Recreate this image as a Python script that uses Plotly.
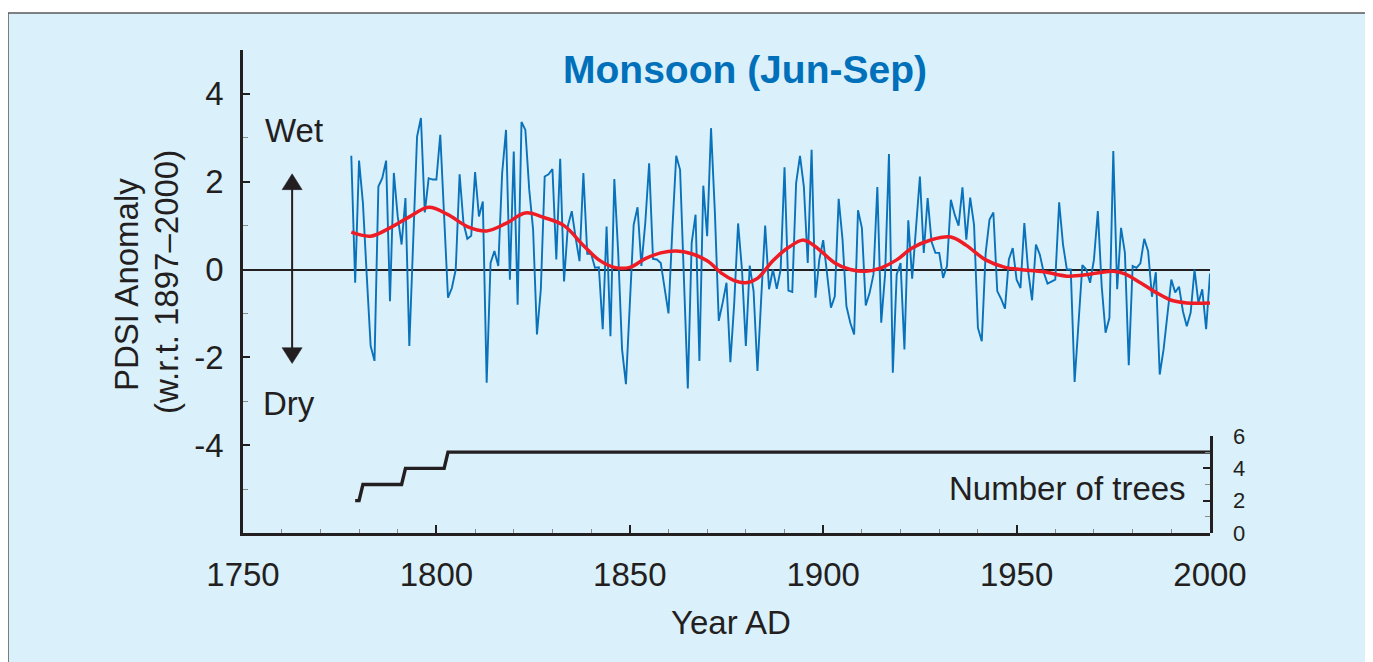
import plotly.graph_objects as go

# ---------------- data ----------------
years = list(range(1778, 2001))
pdsi = [
    2.59, -0.30, 2.48, 1.52, -0.15, -1.74, -2.08, 1.89, 2.08, 2.48,   # 1778-1787
    -0.72, 2.20, 1.21, 0.57, 1.63, -1.74, 0.64, 3.03, 3.45, 1.30,     # 1788-1797
    2.08, 2.05, 2.05, 3.07, 1.21, -0.64, -0.42, 0.00, 2.17, 1.06,     # 1798-1807
    0.70, 0.77, 2.22, 1.21, 1.55, -2.58, 0.15, 0.42, 0.08, 2.20,      # 1808-1817
    3.18, -0.23, 2.69, -0.80, 3.36, 3.18, 1.82, 0.91, -1.48, -0.45,   # 1818-1827
    2.12, 2.17, 2.29, 0.23, 2.52, -0.27, 1.00, 1.33, 0.72, 0.19,      # 1828-1837
    2.20, 0.36, 0.36, 0.04, 0.05, -1.36, 0.98, -1.52, 2.06, 0.38,     # 1838-1847
    -1.82, -2.61, -0.80, 1.02, 1.42, 0.08, 1.06, 2.42, 0.24, 0.23,    # 1848-1857
    0.15, -0.45, -1.00, 0.91, 2.59, 2.27, -0.15, -2.71, 0.61, 1.25,   # 1858-1867
    -2.08, 1.91, 0.76, 3.22, 1.29, -1.17, -0.76, -0.30, -2.11, -0.76, # 1868-1877
    1.05, 0.00, -1.74, 0.09, -0.49, -2.31, -0.61, 1.00, -0.45, 0.00,  # 1878-1887
    -0.44, 0.00, 2.33, -0.48, -0.51, 1.97, 2.59, 1.89, 0.15, 2.73,    # 1888-1897
    -0.64, 0.23, 0.67, -0.15, -0.87, -0.61, 1.61, 0.68, -0.83, -1.21, # 1898-1907
    -1.48, 1.35, 0.95, -0.82, -0.53, -0.11, 1.88, -1.21, -0.11, 2.63, # 1908-1917
    -2.35, -0.11, 0.15, -1.82, 1.12, -0.21, 0.91, 2.12, 0.38, 1.63,   # 1918-1927
    0.64, 0.38, 0.38, -0.19, 0.08, 1.59, 1.25, 1.00, 1.87, 0.68,      # 1928-1937
    1.64, 1.02, -1.33, -1.63, 0.38, 1.14, 1.30, -0.49, -0.67, -0.89,  # 1938-1947
    0.23, 0.49, -0.23, -0.42, 1.06, -0.04, -0.70, 0.57, 0.34, -0.06,  # 1948-1957
    -0.32, -0.27, -0.23, 1.53, 0.57, 0.00, 0.00, -2.56, -1.21, 0.10,  # 1958-1967
    0.00, -0.30, 0.23, 1.33, -0.38, -1.44, -1.10, 2.70, -0.45, 0.95,  # 1968-1977
    0.38, -2.18, 0.08, 0.04, 0.14, 0.70, 0.42, -0.62, -0.06, -2.39,   # 1978-1987
    -1.82, -0.95, -0.23, -0.52, -0.39, -0.95, -1.29, -0.98, 0.00, -0.76, # 1988-1997
    -0.45, -1.36, -0.09,                                              # 1998-2000
]

smooth_years = [1778, 1783, 1788, 1793, 1798, 1803, 1808, 1813, 1818, 1823,
                1828, 1833, 1838, 1842, 1846, 1850, 1854, 1858, 1862, 1866,
                1870, 1874, 1877, 1880, 1883, 1887, 1891, 1895, 1899, 1903,
                1907, 1911, 1915, 1919, 1923, 1928, 1933, 1937, 1942, 1947,
                1951, 1957, 1963, 1968, 1972, 1975, 1978, 1982, 1986, 1990,
                1994, 2000]
smooth_vals = [0.85, 0.76, 0.95, 1.20, 1.42, 1.25, 0.98, 0.88, 1.05, 1.29,
               1.18, 1.00, 0.55, 0.22, 0.05, 0.05, 0.25, 0.38, 0.42, 0.36,
               0.20, -0.10, -0.25, -0.30, -0.20, 0.20, 0.50, 0.67, 0.45, 0.15,
               0.00, -0.04, 0.04, 0.22, 0.49, 0.68, 0.74, 0.55, 0.22, 0.05,
               0.00, -0.05, -0.15, -0.12, -0.06, -0.04, -0.10, -0.30, -0.52, -0.70,
               -0.76, -0.76]

tree_years = [1779, 1780, 1781, 1791, 1792, 1802, 1803, 2000]
tree_counts = [2, 2, 3, 3, 4, 4, 5, 5]

x_ticks = [1750, 1800, 1850, 1900, 1950, 2000]
x_minor = [y for y in range(1750, 2001, 10) if y % 50 != 0]
y_ticks = [-4, -2, 0, 2, 4]
y_ticktext = ["-4", "-2", "0", "2", "4"]
y_minor = [-5, -3, -1, 1, 3, 5]
tree_ticks = [0, 2, 4, 6]
tree_minor = [1, 3, 5]

# ---------------- styling ----------------
FONT = "Liberation Sans, Arial, Helvetica, sans-serif"
INK = "#231F20"
BLUE = "#0A72BA"
RED = "#EE1D25"
BG = "#DAF0FB"

fig = go.Figure()

fig.add_trace(go.Scatter(x=years, y=pdsi, mode="lines",
                         line=dict(color=BLUE, width=1.9),
                         hoverinfo="skip", showlegend=False))
fig.add_trace(go.Scatter(x=smooth_years, y=smooth_vals, mode="lines",
                         line=dict(color=RED, width=3.5, shape="spline", smoothing=1.0),
                         hoverinfo="skip", showlegend=False))
fig.add_trace(go.Scatter(x=tree_years, y=tree_counts, mode="lines", yaxis="y2",
                         line=dict(color=INK, width=3.4),
                         hoverinfo="skip", showlegend=False))

axis_common = dict(showgrid=False, showline=True, linecolor=INK, linewidth=2.5,
                   ticks="inside", tickcolor=INK, tickwidth=1.5,
                   tickfont=dict(family=FONT, size=33, color=INK))

# figure sits 8px in from the page corner; plot area 967 x 483 px
fig.update_layout(
    width=1365, height=654,
    margin=dict(l=235, r=163, t=42, b=129),
    paper_bgcolor="white",
    plot_bgcolor="rgba(0,0,0,0)",
    font=dict(family=FONT, color=INK),
    showlegend=False,
    xaxis=dict(**axis_common, range=[1750, 2000], tickmode="array", tickvals=x_ticks,
               ticklen=8, zeroline=False, anchor="y", ticklabelstandoff=11,
               minor=dict(tickmode="array", tickvals=x_minor, ticks="inside",
                          ticklen=4, tickcolor="#8a8a8a", tickwidth=1.2)),
    yaxis=dict(**axis_common, range=[-6, 5], tickmode="array", tickvals=y_ticks,
               ticktext=y_ticktext, ticklen=7, anchor="x", ticklabelstandoff=10,
               zeroline=True, zerolinecolor=INK, zerolinewidth=1.6,
               minor=dict(tickmode="array", tickvals=y_minor, ticks="inside",
                          ticklen=5, tickcolor="#8a8a8a", tickwidth=1.2)),
    yaxis2=dict(showgrid=False, showline=True, linecolor=INK, linewidth=2.5,
                ticks="inside", tickcolor=INK, tickwidth=1.5, ticklen=7,
                domain=[0, 97 / 483], range=[0, 6], anchor="x", side="right",
                tickmode="array", tickvals=tree_ticks, zeroline=False,
                showticklabels=False,
                minor=dict(tickmode="array", tickvals=tree_minor, ticks="inside",
                           ticklen=5, tickcolor="#8a8a8a", tickwidth=1.2)),
)

# light blue panel with border
fig.add_shape(type="rect", xref="paper", yref="paper",
              x0=-0.243, x1=1.1644, y0=-0.35, y1=1.0766,
              fillcolor=BG, line=dict(color="#5a5a5c", width=1.5), layer="below")

# Wet / Dry arrow
ax_x = 1762.7
fig.add_shape(type="line", xref="x", yref="y", x0=ax_x, x1=ax_x, y0=1.85, y1=-1.80,
              line=dict(color=INK, width=2))
fig.add_shape(type="path", xref="x", yref="y",
              path=f"M {ax_x},2.18 L {ax_x-2.6},1.82 L {ax_x+2.6},1.82 Z",
              fillcolor=INK, line=dict(color=INK, width=0.5))
fig.add_shape(type="path", xref="x", yref="y",
              path=f"M {ax_x},-2.14 L {ax_x-2.6},-1.78 L {ax_x+2.6},-1.78 Z",
              fillcolor=INK, line=dict(color=INK, width=0.5))

def txt(text, x, y, size=33, color=INK, bold=False, xanchor="center", angle=0,
        xref="paper", yref="paper"):
    fig.add_annotation(text=f"<b>{text}</b>" if bold else text, x=x, y=y,
                       xref=xref, yref=yref, showarrow=False,
                       xanchor=xanchor, yanchor="middle", textangle=angle,
                       font=dict(family=FONT, size=size, color=color))

px_x = lambda p: (p - 243) / 967
px_y = lambda p: (533 - p) / 483

# tick labels of the "number of trees" axis, placed on that axis' scale
for v in tree_ticks:
    txt(str(v), px_x(1231), v, size=22, xanchor="left", yref="y2")

txt("Monsoon (Jun-Sep)", px_x(744.5), px_y(69), size=39, color="#0070BA", bold=True)
txt("Wet", px_x(294), px_y(130))
txt("Dry", px_x(289), px_y(403))
txt("Number of trees", px_x(1188), px_y(488), xanchor="right")
txt("Year AD", px_x(731), px_y(622))
txt("PDSI Anomaly", px_x(126), px_y(285), angle=-90)
txt("(w.r.t. 1897\u20132000)", px_x(166), px_y(282), angle=-90)

fig.write_html("out.html")
